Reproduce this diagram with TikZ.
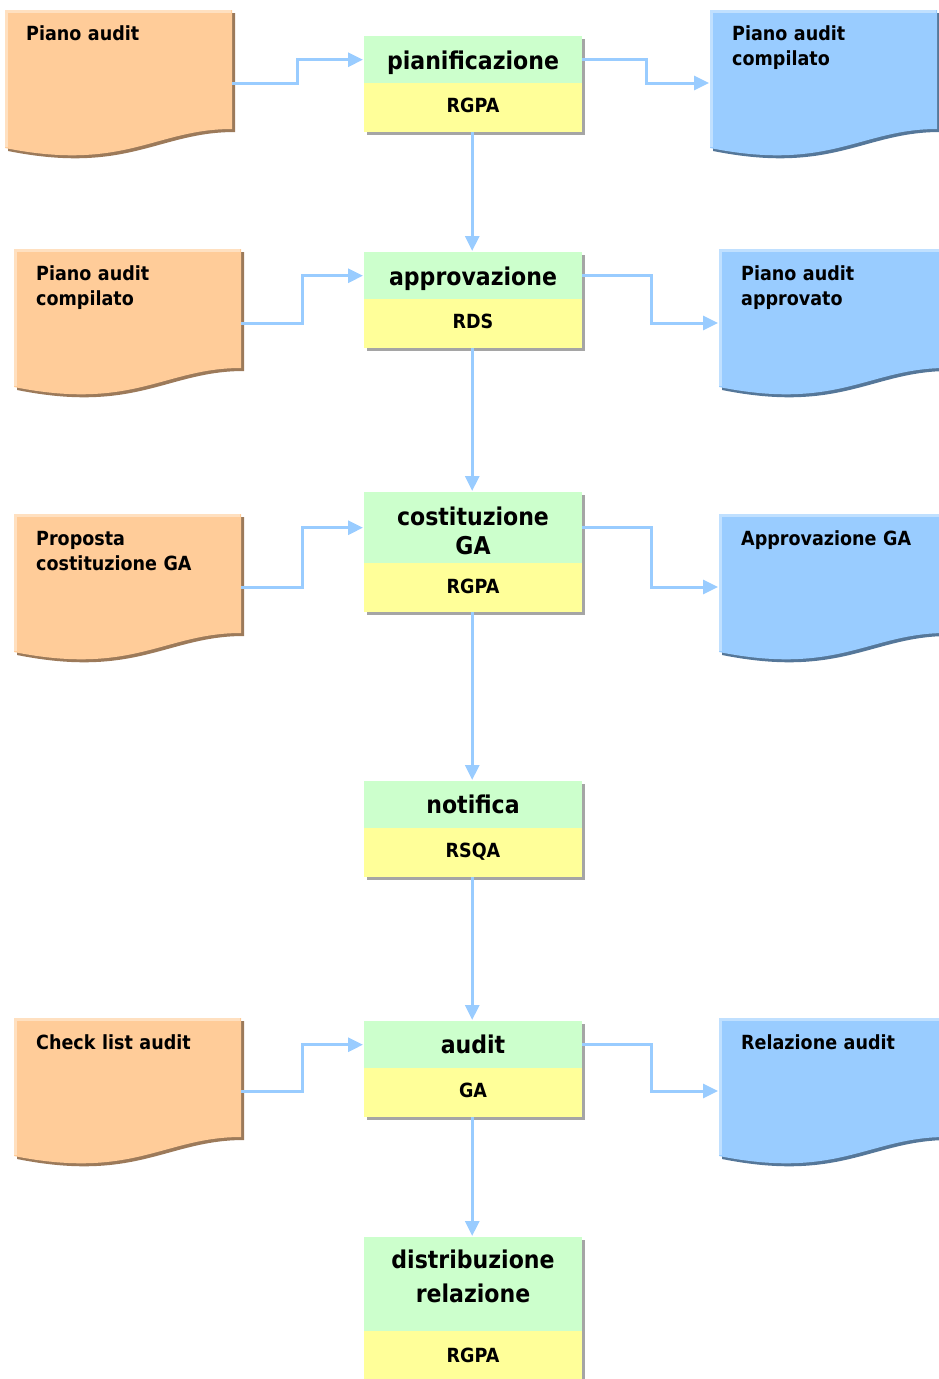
\documentclass[tikz,border=0pt]{standalone}
\usepackage{fontspec}
\setmainfont{DejaVu Sans}[FakeStretch=0.9]
\usetikzlibrary{arrows.meta,shadows}
\definecolor{gfill}{RGB}{204,255,204}
\definecolor{yfill}{RGB}{255,255,153}
\definecolor{ofill}{RGB}{255,204,153}
\definecolor{oshadow}{RGB}{156,122,90}
\definecolor{ohi}{RGB}{255,224,192}
\definecolor{bfill}{RGB}{153,204,255}
\definecolor{bshadow}{RGB}{85,119,153}
\definecolor{bhi}{RGB}{192,224,255}
\definecolor{conncol}{RGB}{153,204,255}
\definecolor{boxshadow}{RGB}{165,165,165}
\newcommand\docum[5]{%
\begin{scope}[shift={(#1,#2)}]
 \fill[#4] (3,3) -- (230,3) -- (230,122) .. controls (153,122) and (123,165) .. (3,141) -- cycle;
 \fill[#3] (0,0) -- (227,0) -- (227,119) .. controls (150,119) and (120,162) .. (0,138) -- cycle;
 \draw[#5, line width=3pt] (1.5,137) -- (1.5,1.5) -- (226,1.5);
\end{scope}}
\begin{document}
\begin{tikzpicture}[x=1pt,y=-1pt,
  procg/.style={fill=gfill, draw=none, minimum width=218pt, inner sep=0pt, anchor=north west,
     general shadow={fill=boxshadow, shadow xshift=3pt, shadow yshift=-3pt}},
  procy/.style={fill=yfill, draw=none, minimum width=218pt, minimum height=49pt, inner sep=0pt, anchor=north west,
     general shadow={fill=boxshadow, shadow xshift=3pt, shadow yshift=-3pt}},
  ttl/.style={anchor=base, inner sep=0pt, text width=218pt, align=center, font=\fontsize{24.5}{30}\selectfont\bfseries},
  role/.style={anchor=base, inner sep=0pt, font=\fontsize{19.5}{22}\selectfont\bfseries},
  doctxt/.style={anchor=base west, inner sep=0pt, text width=205pt, align=left, font=\fontsize{19.5}{25}\selectfont\bfseries},
  conn/.style={draw=conncol, line width=3pt, -{Triangle[length=15pt,width=14pt]}, shorten >=1pt}
]
\useasboundingbox (0,0) rectangle (939,1379);
\clip (0,0) rectangle (939,1379);

% documents
\docum{5}{10}{ofill}{oshadow}{ohi}
\docum{14}{249}{ofill}{oshadow}{ohi}
\docum{14}{514}{ofill}{oshadow}{ohi}
\docum{14}{1018}{ofill}{oshadow}{ohi}
\docum{710}{10}{bfill}{bshadow}{bhi}
\docum{719}{249}{bfill}{bshadow}{bhi}
\docum{719}{514}{bfill}{bshadow}{bhi}
\docum{719}{1018}{bfill}{bshadow}{bhi}

\node[doctxt] (tl1) at (26,40) {Piano audit};
\node[doctxt] (tl2) at (36,280) {Piano audit\\compilato};
\node[doctxt] (tl3) at (36,545) {Proposta\\costituzione GA};
\node[doctxt] (tl5) at (36,1049) {Check list audit};
\node[doctxt] (tr1) at (732,40) {Piano audit\\compilato};
\node[doctxt] (tr2) at (741,280) {Piano audit\\approvato};
\node[doctxt] (tr3) at (741,545) {Approvazione GA};
\node[doctxt] (tr5) at (741,1049) {Relazione audit};

\coordinate (L1) at (232,83);  \coordinate (R1) at (710,83);
\coordinate (L2) at (241,323); \coordinate (R2) at (719,323);
\coordinate (L3) at (241,587); \coordinate (R3) at (719,587);
\coordinate (L5) at (241,1091); \coordinate (R5) at (719,1091);

% process boxes
\node[procg, minimum height=47pt] (g1) at (364,36) {};
\node[procy] (y1) at (364,83) {};
\node[procg, minimum height=47pt] (g2) at (364,252) {};
\node[procy] (y2) at (364,299) {};
\node[procg, minimum height=71pt] (g3) at (364,492) {};
\node[procy] (y3) at (364,563) {};
\node[procg, minimum height=47pt] (g4) at (364,781) {};
\node[procy] (y4) at (364,828) {};
\node[procg, minimum height=47pt] (g5) at (364,1021) {};
\node[procy] (y5) at (364,1068) {};
\node[procg, minimum height=94pt] (g6) at (364,1237) {};
\node[procy, minimum height=55pt] (y6) at (364,1331) {};

\node[ttl] (t1) at (473,69) {pianificazione};
\node[role] (r1) at (473,112) {RGPA};
\node[ttl] (t2) at (473,285) {approvazione};
\node[role] (r2) at (473,328) {RDS};
\node[ttl, font=\fontsize{24.5}{29}\selectfont\bfseries] (t3) at (473,525) {costituzione\\GA};
\node[role] (r3) at (473,593) {RGPA};
\node[ttl] (t4) at (473,813) {notifica};
\node[role] (r4) at (473,857) {RSQA};
\node[ttl] (t5) at (473,1053) {audit};
\node[role] (r5) at (473,1097) {GA};
\node[ttl, font=\fontsize{24.5}{34}\selectfont\bfseries] (t6) at (473,1268) {distribuzione\\relazione};
\node[role] (r6) at (473,1362) {RGPA};

% connectors
\draw[conn] (L1) -- ++(65,0) |- (g1.west);
\draw[conn] (g1.east) -- ++(64,0) |- (R1);
\draw[conn] (L2) -- ++(61,0) |- (g2.west);
\draw[conn] (g2.east) -- ++(69,0) |- (R2);
\draw[conn] (L3) -- ++(61,0) |- (g3.west);
\draw[conn] (g3.east) -- ++(69,0) |- (R3);
\draw[conn] (L5) -- ++(61,0) |- (g5.west);
\draw[conn] (g5.east) -- ++(69,0) |- (R5);

\draw[conn] ([xshift=-1pt]y1.south) -- ([xshift=-1pt]g2.north);
\draw[conn] ([xshift=-1pt]y2.south) -- ([xshift=-1pt]g3.north);
\draw[conn] ([xshift=-1pt]y3.south) -- ([xshift=-1pt]g4.north);
\draw[conn] ([xshift=-1pt]y4.south) -- ([xshift=-1pt]g5.north);
\draw[conn] ([xshift=-1pt]y5.south) -- ([xshift=-1pt]g6.north);
\end{tikzpicture}
\end{document}
